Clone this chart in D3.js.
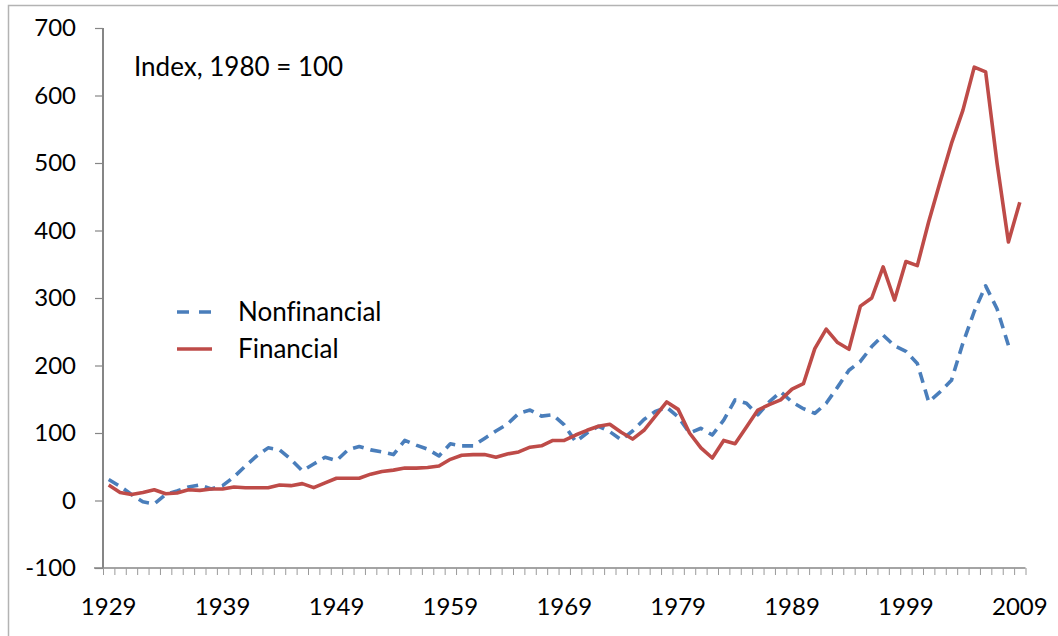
<!DOCTYPE html>
<html>
<head>
<meta charset="utf-8">
<script src="https://cdn.jsdelivr.net/npm/d3@7"></script>
<style>
  html, body { margin: 0; padding: 0; background: #fff; }
  svg { display: block; }
  text { font-family: Lato, "Open Sans", sans-serif; fill: #000; font-variant-ligatures: none; }
</style>
</head>
<body>
<svg id="chart" width="1058" height="636"></svg>
<script>
const years = d3.range(1929, 2010);
const labelYears = [1929, 1939, 1949, 1959, 1969, 1979, 1989, 1999, 2009];
const yTicks = [-100, 0, 100, 200, 300, 400, 500, 600, 700];
const seriesNames = ["Nonfinancial", "Financial"];
const nonfinancial = [
  31, 21, 9, -2, -5, 9, 14, 20, 23, 17,
  22, 35, 51, 66, 78, 75, 61, 44, 54, 64,
  59, 75, 80, 75, 72, 68, 89, 82, 76, 66,
  84, 81, 81, 92, 103, 113, 129, 134, 125, 127,
  112, 87, 100, 110, 102, 90, 103, 120, 132, 138,
  124, 100, 107, 97, 119, 149, 144, 127, 146, 161,
  146, 136, 129, 144, 168, 193, 206, 228, 245, 229,
  221, 203, 146, 161, 178, 233, 280, 318, 284, 230,
  null
];
const financial = [
  23, 12, 9, 12, 16, 10, 11, 16, 15, 17,
  17, 20, 19, 19, 19, 23, 22, 25, 19, 26,
  33, 33, 33, 39, 43, 45, 48, 48, 49, 51,
  61, 67, 68, 68, 64, 69, 72, 79, 81, 89,
  89, 97, 104, 110, 113, 101, 91, 104, 125, 146,
  135, 100, 78, 63, 89, 84, 109, 134, 142, 149,
  165, 173, 225, 254, 234, 224, 288, 300, 346, 297,
  354, 348, 413, 472, 529, 578, 642, 635, 500, 383,
  442
];
const annotation = "Index, 1980 = 100";

(function () {
const svg = d3.select("#chart");
const pLeft = 103, pRight = 1025.5, pTop = 28, pBottom = 568;

// outer border (chart area frame)
svg.append("path")
  .attr("d", "M8.5,640 L8.5,5.5 L1062,5.5")
  .attr("fill", "none").attr("stroke", "#b3b3b3").attr("stroke-width", 1.5);

const x = d3.scaleBand().domain(years).range([pLeft, pRight]).padding(0);
const xEdge = d3.scaleLinear().domain([0, years.length]).range([pLeft, pRight]);
const y = d3.scaleLinear().domain([-100, 700]).range([pBottom, pTop]);
const cx = yr => x(yr) + x.bandwidth() / 2;

// Y axis
const gy = svg.append("g").attr("transform", `translate(${pLeft},0)`)
  .call(d3.axisLeft(y).tickValues(yTicks).tickSize(8).tickPadding(19).tickFormat(d => String(d)));
gy.select(".domain").attr("stroke", "#868686").attr("stroke-width", 2).attr("d", `M0,${pTop}V${pBottom}`);
gy.selectAll(".tick line").attr("stroke", "#868686").attr("stroke-width", 1.2);
gy.selectAll(".tick text").attr("font-size", 24).attr("font-family", "Lato").attr("fill", "#000");

// X axis tick marks at category boundaries
const gxt = svg.append("g").attr("transform", `translate(0,${pBottom})`)
  .call(d3.axisBottom(xEdge).tickValues(d3.range(0, years.length + 1)).tickSize(7).tickFormat(""));
gxt.select(".domain").attr("stroke", "#868686").attr("stroke-width", 1.5).attr("d", `M${pLeft - 9},0H${pRight}`);
gxt.selectAll(".tick line").attr("stroke", "#9a9a9a").attr("stroke-width", 1);

// X axis labels
const gx = svg.append("g").attr("transform", `translate(0,${pBottom})`)
  .call(d3.axisBottom(x).tickValues(labelYears).tickSize(0).tickFormat(d => String(d)));
gx.select(".domain").remove();
gx.selectAll(".tick text").attr("font-size", 24).attr("font-family", "Lato").attr("fill", "#000")
  .attr("y", 39).attr("dy", "0.35em");

// Lines
const line = d3.line().defined(d => d[1] != null).x(d => cx(d[0])).y(d => y(d[1]));
svg.append("path")
  .datum(years.map((yr, i) => [yr, nonfinancial[i]]))
  .attr("d", line).attr("fill", "none")
  .attr("stroke", "#4A7EBB").attr("stroke-width", 3.6)
  .attr("stroke-dasharray", "11,7").attr("stroke-linejoin", "round");
svg.append("path")
  .datum(years.map((yr, i) => [yr, financial[i]]))
  .attr("d", line).attr("fill", "none")
  .attr("stroke", "#BE4B48").attr("stroke-width", 3.6).attr("stroke-linejoin", "round");

// Annotation
svg.append("text").attr("x", 134).attr("y", 76).attr("font-size", 26).text(annotation);

// Legend
const legend = svg.append("g");
const legY = [312, 349];
legend.append("line").attr("x1", 177).attr("x2", 212).attr("y1", legY[0]).attr("y2", legY[0])
  .attr("stroke", "#4A7EBB").attr("stroke-width", 3.6).attr("stroke-dasharray", "12,10");
legend.append("line").attr("x1", 177).attr("x2", 212).attr("y1", legY[1]).attr("y2", legY[1])
  .attr("stroke", "#BE4B48").attr("stroke-width", 3.6);
seriesNames.forEach((n, i) => {
  legend.append("text").attr("x", 238).attr("y", legY[i]).attr("dy", "0.35em")
    .attr("font-size", 26).text(n);
});
})();
</script>
</body>
</html>
